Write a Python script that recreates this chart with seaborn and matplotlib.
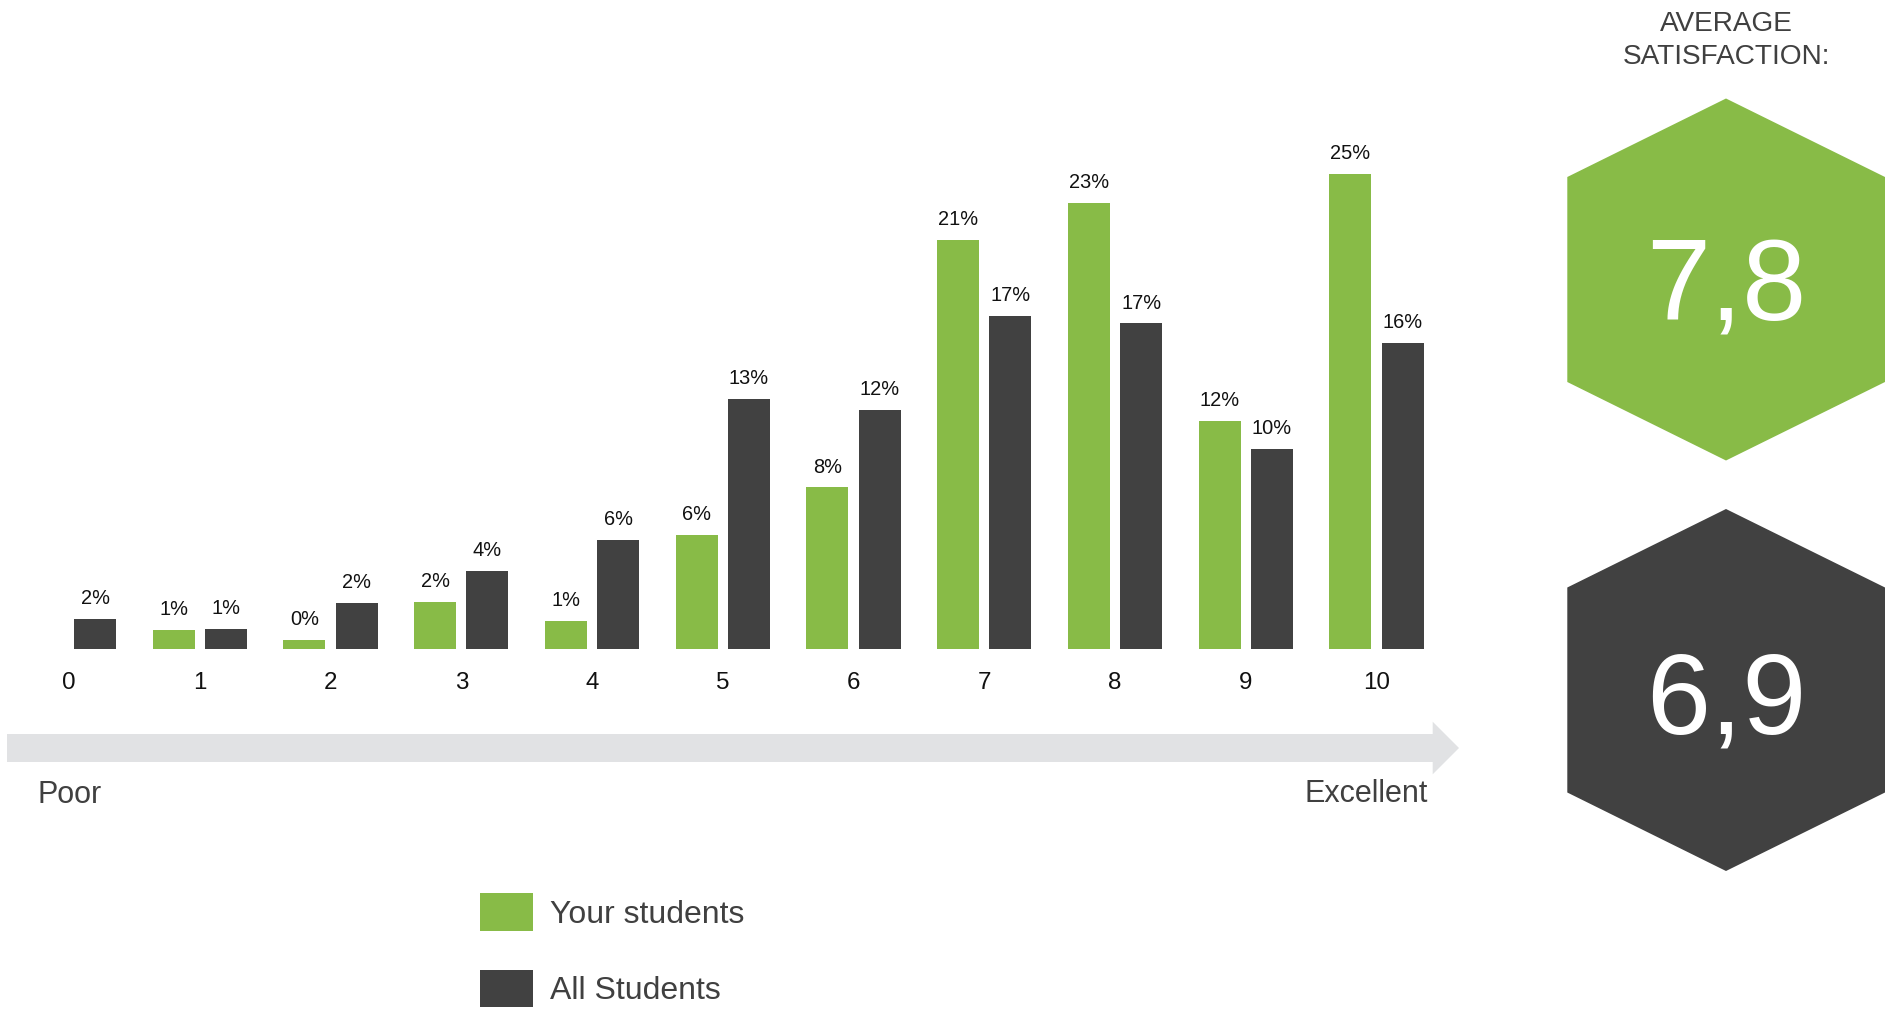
import numpy as np
import pandas as pd
import matplotlib
matplotlib.use("Agg")
import matplotlib.pyplot as plt
from matplotlib.patches import Polygon
import seaborn as sns

# Satisfaction scores (0 = poor ... 10 = excellent) and share of answers in %
scores = [str(i) for i in range(11)]
your_students = [np.nan, 1.0, 0.49, 2.45, 1.47, 5.94, 8.42, 21.29, 23.24, 11.88, 24.74]
all_students = [1.55, 1.06, 2.4, 4.06, 5.68, 13.02, 12.45, 17.34, 16.96, 10.42, 15.95]
groups = ["Your students", "All Students"]
average_scores = [7.8, 6.9]
header_lines = ["AVERAGE", "SATISFACTION:"]
scale_ends = ["Poor", "Excellent"]

GREEN = "#88BB47"
DARK = "#414141"
TEXT_GREY = "#404040"
ARROW_GREY = "#E1E2E4"

df = pd.DataFrame({
    "score": scores * 2,
    "pct": your_students + all_students,
    "group": [groups[0]] * len(scores) + [groups[1]] * len(scores),
})

sns.set_theme(style="white")
plt.rcParams["font.family"] = ["Liberation Sans", "DejaVu Sans"]

W, H = 1890, 1016
fig = plt.figure(figsize=(W / 100, H / 100), dpi=100)
fig.patch.set_facecolor("white")

# Decoration layer in pixel coordinates (origin top-left)
deco = fig.add_axes([0, 0, 1, 1])
deco.set_xlim(0, W)
deco.set_ylim(H, 0)
deco.axis("off")

# Bar chart layer
base_y = 649.0
ax = fig.add_axes([0, (H - base_y) / H, 1, base_y / H])
ax.patch.set_alpha(0)
sns.barplot(data=df, x="score", y="pct", hue="group", order=scores,
            hue_order=groups, palette=[GREEN, DARK], saturation=1,
            width=0.8, gap=0.2, errorbar=None, linewidth=0, ax=ax)

step = 130.75
ax.set_xlim(-69 / step, (W - 69) / step)
ax.set_ylim(0, base_y / 19.2)
for s in ax.spines.values():
    s.set_visible(False)
ax.set_yticks([])
ax.set_xlabel("")
ax.set_ylabel("")
ax.tick_params(axis="x", length=0, pad=16.3, labelsize=17.4, labelcolor="#111111")

for cont in ax.containers:
    ax.bar_label(cont, fmt=lambda v: "" if np.isnan(v) else f"{v:.0f}%",
                 padding=7.8, fontsize=14.4, color="#111111")

fs_leg = 23
sns.move_legend(ax, "upper left", bbox_to_anchor=(480 / W, 1 - 893.3 / H),
                bbox_transform=fig.transFigure, frameon=False, title=None,
                fontsize=fs_leg, labelcolor=TEXT_GREY,
                handlelength=52.7 / (fs_leg * 100 / 72),
                handleheight=45.4 / (fs_leg * 100 / 72),
                labelspacing=33.6 / (fs_leg * 100 / 72) + 0.18,
                handletextpad=0.55, borderpad=0, borderaxespad=0)

# Scale arrow from poor to excellent
arrow = Polygon([(7, 734), (1432.7, 734), (1432.7, 721.7), (1459, 748),
                 (1432.7, 774.3), (1432.7, 762), (7, 762)],
                closed=True, facecolor=ARROW_GREY, edgecolor="none")
deco.add_patch(arrow)
deco.text(37, 802.7, scale_ends[0], fontsize=22, color=TEXT_GREY,
          ha="left", va="baseline")
deco.text(1428, 802.3, scale_ends[1], fontsize=22, color=TEXT_GREY,
          ha="right", va="baseline")

# Average satisfaction badges
deco.text(1726, 31, header_lines[0], fontsize=20.2, color=TEXT_GREY,
          ha="center", va="baseline")
deco.text(1726, 64, header_lines[1], fontsize=20.2, color=TEXT_GREY,
          ha="center", va="baseline")


def hexagon(cy, color):
    top, bottom = cy - 181, cy + 181
    return Polygon([(1726, top), (1885, cy - 102.5), (1885, cy + 102.5),
                    (1726, bottom), (1567.3, cy + 102.5), (1567.3, cy - 102.5)],
                   closed=True, facecolor=color, edgecolor="none")


for cy, baseline, value, color in [(279.5, 320, average_scores[0], GREEN),
                                   (690.0, 733.3, average_scores[1], DARK)]:
    deco.add_patch(hexagon(cy, color))
    deco.text(1726, baseline, f"{value:.1f}".replace(".", ","), fontsize=83,
              color="white", ha="center", va="baseline")

fig.savefig("out.png", dpi=100, facecolor="white")
